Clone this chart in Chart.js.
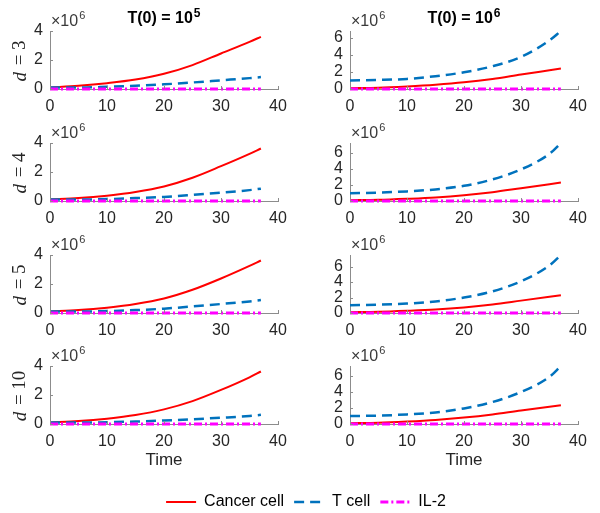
<!DOCTYPE html>
<html>
<head>
<meta charset="utf-8">
<script src="https://cdn.jsdelivr.net/npm/chart.js@4.4.1/dist/chart.umd.min.js"></script>
<style>
html,body{margin:0;padding:0;background:#fff;overflow:hidden;}
#wrap{position:relative;width:600px;height:513px;overflow:hidden;background:#fff;}
#wrap canvas{position:absolute;}
</style>
</head>
<body>
<div id="wrap"></div>
<script>
// ---------------- DATA (values in units of 10^6) ----------------
const time = [0, 5, 10, 15, 20, 25, 30, 35, 37];
const dValues = [3, 4, 5, 10];
const t0Exponents = [5, 6];
const yExponent = 6;
const seriesNames = ['Cancer cell', 'T cell', 'IL-2'];

// Column 1: T(0) = 10^5
const cancerA_d3  = [0.10, 0.22, 0.40, 0.65, 1.05, 1.65, 2.45, 3.25, 3.60];
const tcellA_d3   = [0.10, 0.10, 0.15, 0.22, 0.32, 0.45, 0.60, 0.75, 0.82];
const cancerA_d4  = [0.10, 0.20, 0.37, 0.62, 1.00, 1.60, 2.40, 3.25, 3.62];
const tcellA_d4   = [0.10, 0.10, 0.13, 0.20, 0.28, 0.42, 0.58, 0.75, 0.85];
const cancerA_d5  = [0.10, 0.20, 0.37, 0.62, 1.00, 1.60, 2.38, 3.25, 3.62];
const tcellA_d5   = [0.10, 0.10, 0.13, 0.20, 0.30, 0.45, 0.62, 0.80, 0.90];
const cancerA_d10 = [0.10, 0.20, 0.37, 0.62, 1.01, 1.58, 2.35, 3.22, 3.62];
const tcellA_d10  = [0.10, 0.10, 0.12, 0.17, 0.24, 0.33, 0.43, 0.55, 0.63];

// Column 2: T(0) = 10^6
const cancerB_d3  = [0.10, 0.15, 0.30, 0.50, 0.78, 1.18, 1.70, 2.20, 2.40];
const tcellB_d3   = [1.00, 1.06, 1.18, 1.50, 1.96, 2.67, 3.76, 5.70, 6.80];
const cancerB_d4  = [0.10, 0.15, 0.28, 0.45, 0.72, 1.10, 1.60, 2.10, 2.30];
const tcellB_d4   = [0.98, 1.05, 1.20, 1.45, 1.90, 2.70, 3.95, 5.90, 7.25];
const cancerB_d5  = [0.10, 0.15, 0.28, 0.45, 0.72, 1.10, 1.60, 2.10, 2.30];
const tcellB_d5   = [1.00, 1.07, 1.22, 1.50, 2.00, 2.80, 4.10, 6.15, 7.50];
const cancerB_d10 = [0.10, 0.15, 0.30, 0.50, 0.80, 1.20, 1.70, 2.15, 2.33];
const tcellB_d10  = [1.00, 1.05, 1.20, 1.45, 1.95, 2.75, 4.00, 5.90, 7.25];

const il2 = [0, 0, 0, 0, 0, 0, 0, 0, 0];

const cancerSets = [
  [cancerA_d3, cancerA_d4, cancerA_d5, cancerA_d10],
  [cancerB_d3, cancerB_d4, cancerB_d5, cancerB_d10]
];
const tcellSets = [
  [tcellA_d3, tcellA_d4, tcellA_d5, tcellA_d10],
  [tcellB_d3, tcellB_d4, tcellB_d5, tcellB_d10]
];

// ---------------- STYLE / LAYOUT ----------------
const FONT = '"Liberation Sans", Arial, Helvetica, sans-serif';
const SERIF = '"Liberation Serif", "Times New Roman", serif';
const TEXT = '#262626';
const AXIS = '#8c8c8c';
const styles = [
  { color: '#ff0000', width: 2, dash: [] },
  { color: '#0072bd', width: 2.5, dash: [10, 6] },
  { color: '#ff00ff', width: 3, dash: [8, 3, 2, 3] }
];
Chart.defaults.font.family = FONT;

const colLeft = [0, 300];
const plotTops = [31, 143, 255, 366];
const plotH = 58;
const topPad = 31;

const toXY = (vals) => time.map((t, i) => ({ x: t, y: vals[i] }));

const panelText = {
  id: 'panelText',
  afterDraw(chart, args, o) {
    const { ctx, chartArea: a } = chart;
    ctx.save();
    // inward tick marks
    ctx.strokeStyle = AXIS; ctx.lineWidth = 1;
    const xs = chart.scales.x, ys = chart.scales.y;
    ctx.beginPath();
    xs.ticks.forEach(t => {
      const px = Math.round(xs.getPixelForValue(t.value)) + 0.5;
      ctx.moveTo(px, a.bottom); ctx.lineTo(px, a.bottom - 3);
    });
    ys.ticks.forEach(t => {
      const py = Math.round(ys.getPixelForValue(t.value)) + 0.5;
      ctx.moveTo(a.left, py); ctx.lineTo(a.left + 3, py);
    });
    ctx.stroke();

    // x10^6 exponent label
    ctx.fillStyle = '#3a3a3a';
    ctx.textAlign = 'left';
    ctx.textBaseline = 'alphabetic';
    ctx.font = '16px ' + FONT;
    const ex = a.left + 1, ey = a.top - 5;
    ctx.fillText('\u00d710', ex, ey);
    const w1 = ctx.measureText('\u00d710').width;
    ctx.font = '11px ' + FONT;
    ctx.fillText(String(o.exp), ex + w1 + 1, ey - 7);

    // column title
    if (o.titleExp !== null) {
      ctx.fillStyle = '#000';
      ctx.font = 'bold 16px ' + FONT;
      const main = 'T(0) = 10';
      const wm = ctx.measureText(main).width;
      ctx.font = 'bold 12px ' + FONT;
      const ws = ctx.measureText(String(o.titleExp)).width;
      const cx = (a.left + a.right) / 2;
      const x0 = cx - (wm + ws + 1) / 2;
      ctx.font = 'bold 16px ' + FONT;
      ctx.fillText(main, x0, 22.5);
      ctx.font = 'bold 12px ' + FONT;
      ctx.fillText(String(o.titleExp), x0 + wm + 1, 17);
    }

    // row label  d = k
    if (o.d !== null) {
      ctx.fillStyle = TEXT;
      ctx.translate(20.5, (a.top + a.bottom) / 2 + 1);
      ctx.rotate(-Math.PI / 2);
      ctx.textBaseline = 'middle';
      ctx.font = 'italic 19px ' + SERIF;
      const wd = ctx.measureText('d').width;
      ctx.font = '19px ' + SERIF;
      const rest = ' = ' + o.d;
      const wr = ctx.measureText(rest).width;
      const sx = -(wd + wr + 2) / 2;
      ctx.font = 'italic 19px ' + SERIF;
      ctx.fillText('d', sx, 0);
      ctx.font = '19px ' + SERIF;
      ctx.fillText(rest, sx + wd + 2, 0);
    }
    ctx.restore();
  }
};

const wrap = document.getElementById('wrap');

function makePanel(r, c) {
  const isBottom = r === dValues.length - 1;
  const xH = isBottom ? 51 : 24;
  const cv = document.createElement('canvas');
  const W = 300, H = topPad + plotH + xH;
  cv.width = W; cv.height = H;
  cv.style.left = colLeft[c] + 'px';
  cv.style.top = (plotTops[r] - topPad) + 'px';
  cv.style.width = W + 'px'; cv.style.height = H + 'px';
  wrap.appendChild(cv);

  const cancer = cancerSets[c][r];
  const tcell = tcellSets[c][r];
  const ymax = c === 0 ? 4 : Math.max(...tcell);
  const seriesData = [cancer, tcell, il2];

  new Chart(cv, {
    type: 'line',
    data: {
      datasets: seriesData.map((vals, k) => ({
        label: seriesNames[k],
        data: toXY(vals),
        borderColor: styles[k].color,
        backgroundColor: styles[k].color,
        borderWidth: styles[k].width,
        borderDash: styles[k].dash,
        pointRadius: 0,
        fill: false,
        clip: 6,
        cubicInterpolationMode: 'monotone'
      })).reverse()
    },
    options: {
      responsive: false,
      animation: false,
      devicePixelRatio: 1,
      layout: { padding: { top: topPad, right: 22, left: 0, bottom: 0 } },
      plugins: {
        legend: { display: false },
        tooltip: { enabled: false },
        panelText: { exp: yExponent, titleExp: r === 0 ? t0Exponents[c] : null, d: c === 0 ? dValues[r] : null }
      },
      scales: {
        x: {
          type: 'linear', min: 0, max: 40, bounds: 'data',
          ticks: { stepSize: 10, padding: 8, color: TEXT, font: { size: 16 }, maxRotation: 0, autoSkip: false },
          grid: { display: false, drawTicks: false },
          border: { display: true, color: AXIS, width: 1 },
          title: isBottom ? { display: true, text: 'Time', color: TEXT, font: { size: 17 }, padding: { top: 0, bottom: 4 } } : { display: false },
          afterFit(s) { s.height = xH; }
        },
        y: {
          type: 'linear', min: 0, max: ymax, bounds: 'data',
          ticks: { stepSize: 2, includeBounds: false, autoSkip: false, padding: 7, color: TEXT, font: { size: 16 } },
          grid: { display: false, drawTicks: false },
          border: { display: true, color: AXIS, width: 1 },
          afterFit(s) { s.width = 50; }
        }
      }
    },
    plugins: [panelText]
  });
}

for (let r = 0; r < dValues.length; r++) {
  for (let c = 0; c < 2; c++) makePanel(r, c);
}

// ---------------- LEGEND ----------------
const lc = document.createElement('canvas');
lc.width = 600; lc.height = 70;
lc.style.left = '0px'; lc.style.top = '484px';
lc.style.width = '600px'; lc.style.height = '70px';
wrap.appendChild(lc);
new Chart(lc, {
  type: 'line',
  data: {
    datasets: seriesNames.map((name, k) => ({
      label: name,
      data: [],
      borderColor: styles[k].color,
      backgroundColor: styles[k].color,
      borderWidth: styles[k].width,
      borderDash: styles[k].dash,
      pointStyle: 'line'
    }))
  },
  options: {
    responsive: false,
    animation: false,
    devicePixelRatio: 1,
    layout: { padding: { left: 12, right: 0, top: 0, bottom: 0 } },
    scales: { x: { display: false }, y: { display: false } },
    plugins: {
      tooltip: { enabled: false },
      legend: {
        display: true,
        position: 'top',
        labels: {
          usePointStyle: true,
          pointStyle: 'line',
          pointStyleWidth: 30,
          padding: 10,
          color: '#000',
          font: { size: 16, family: FONT },
          generateLabels(chart) {
            const items = Chart.defaults.plugins.legend.labels.generateLabels(chart);
            return items.map((it, i) => {
              const ds = chart.data.datasets[it.datasetIndex];
              it.lineDash = ds.borderDash;
              it.strokeStyle = ds.borderColor;
              it.fillStyle = ds.borderColor;
              it.lineWidth = ds.borderWidth;
              it.pointStyle = 'line';
              return it;
            });
          }
        }
      }
    }
  }
});
</script>
</body>
</html>
